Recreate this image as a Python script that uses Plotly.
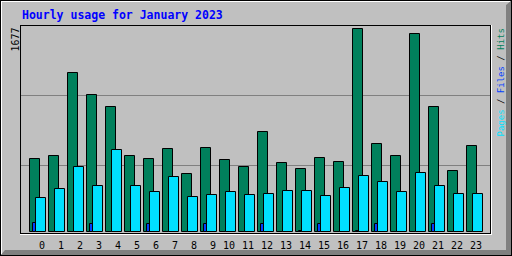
import plotly.graph_objects as go

hours = list(range(24))
hour_labels = [str(h) for h in hours]
hits = [605, 624, 1314, 1132, 1034, 630, 605, 688, 482, 696, 597, 539,
        828, 573, 523, 613, 581, 1677, 729, 630, 1630, 1034, 506, 712]
files = [76, 0, 0, 68, 0, 0, 68, 0, 0, 68, 0, 0,
         68, 0, 8, 68, 0, 8, 68, 0, 0, 68, 0, 0]
pages = [284, 358, 539, 383, 680, 383, 333, 457, 292, 308, 333, 308,
         316, 341, 341, 300, 366, 465, 415, 333, 490, 383, 316, 316]
max_label = "1677"
title = "Hourly usage for January 2023"
grid_vals = [550, 1128]

W, H = 512, 256
L, R, T, B = 20, 491, 25, 232

def pxx(x):
    return (x - L) / (R - L)

def pxy(y):
    return (B - y) / (B - T)

SLOT = 19.0
bw = 10 / SLOT

fig = go.Figure()
fig.add_trace(go.Bar(x=hours, y=hits, width=bw, offset=0,
                     marker=dict(color="#00805C", line=dict(color="black", width=1))))
fig.add_trace(go.Bar(x=hours, y=files, width=bw, offset=3 / SLOT,
                     marker=dict(color="#0040FF", line=dict(color="black", width=1))))
fig.add_trace(go.Bar(x=hours, y=pages, width=bw, offset=6 / SLOT,
                     marker=dict(color="#00E0FF", line=dict(color="black", width=1))))

scale = 0.1212
x0 = -0.5
fig.update_layout(
    width=W, height=H, margin=dict(l=L, r=W - R, t=T, b=H - B, pad=0),
    paper_bgcolor="#C0C0C0", plot_bgcolor="#C0C0C0",
    barmode="overlay", showlegend=False, bargap=0,
    xaxis=dict(range=[x0, x0 + (R - L) / SLOT], showticklabels=False,
               showgrid=False, zeroline=False, ticks=""),
    yaxis=dict(range=[0, (B - T) / scale], tickvals=grid_vals, showticklabels=False,
               showgrid=True, gridcolor="#808080", gridwidth=1, zeroline=False, ticks=""),
)

shapes = []
def line(xa, ya, xb, yb, color):
    shapes.append(dict(type="line", xref="paper", yref="paper",
                       x0=pxx(xa), y0=pxy(ya), x1=pxx(xb), y1=pxy(yb),
                       line=dict(color=color, width=1), layer="above"))

# outer 3D frame
shapes.append(dict(type="path", xref="paper", yref="paper",
                   path="M {} {} L {} {} L {} {} L {} {} L {} {} L {} {} Z".format(
                       pxx(512), pxy(0), pxx(506), pxy(5), pxx(506), pxy(250),
                       pxx(5), pxy(250), pxx(0), pxy(256), pxx(512), pxy(256)),
                   fillcolor="#808080", line=dict(width=0), layer="above"))
line(1, 1.5, 510, 1.5, "white")
line(1.5, 1, 1.5, 254, "white")
line(0, 0.5, 512, 0.5, "black")
line(0.5, 0, 0.5, 256, "black")
line(0, 255.5, 512, 255.5, "black")
line(511.5, 0, 511.5, 256, "black")
# inner frame
line(20, 25.5, 491, 25.5, "black")
line(20.5, 25, 20.5, 234, "black")
line(20, 233.5, 491, 233.5, "black")
line(490.5, 25, 490.5, 234, "black")
line(20, 234.5, 492, 234.5, "white")
line(491.5, 25, 491.5, 235, "white")
fig.update_layout(shapes=shapes)

ann = []
ann.append(dict(text="<b>" + title + "</b>", xref="paper", yref="paper",
                x=pxx(20), y=pxy(15), xanchor="left", yanchor="middle", showarrow=False,
                font=dict(family="DejaVu Sans Mono", size=11.5, color="#0000FF")))
ann.append(dict(text=max_label, xref="paper", yref="paper", textangle=-90,
                x=pxx(15), y=pxy(39.5), xanchor="center", yanchor="middle", showarrow=False,
                font=dict(family="DejaVu Sans Mono", size=10, color="black")))
legend_txt = ('<span style="color:#00E0FF">Pages</span> / '
              '<span style="color:#0040FF">Files</span> / '
              '<span style="color:#00805C">Hits</span>')
ann.append(dict(text=legend_txt, xref="paper", yref="paper", textangle=-90,
                x=pxx(500), y=pxy(82.5), xanchor="center", yanchor="middle", showarrow=False,
                font=dict(family="DejaVu Sans Mono", size=9, color="black")))
for h, lab in zip(hours, hour_labels):
    ann.append(dict(text=lab, xref="x", yref="paper", x=h + 27 / SLOT - 0.5,
                    y=pxy(245.5), xanchor="right", yanchor="middle", showarrow=False,
                    font=dict(family="DejaVu Sans Mono", size=10, color="black")))
fig.update_layout(annotations=ann)

fig.write_html("out.html", config={"displayModeBar": False})
